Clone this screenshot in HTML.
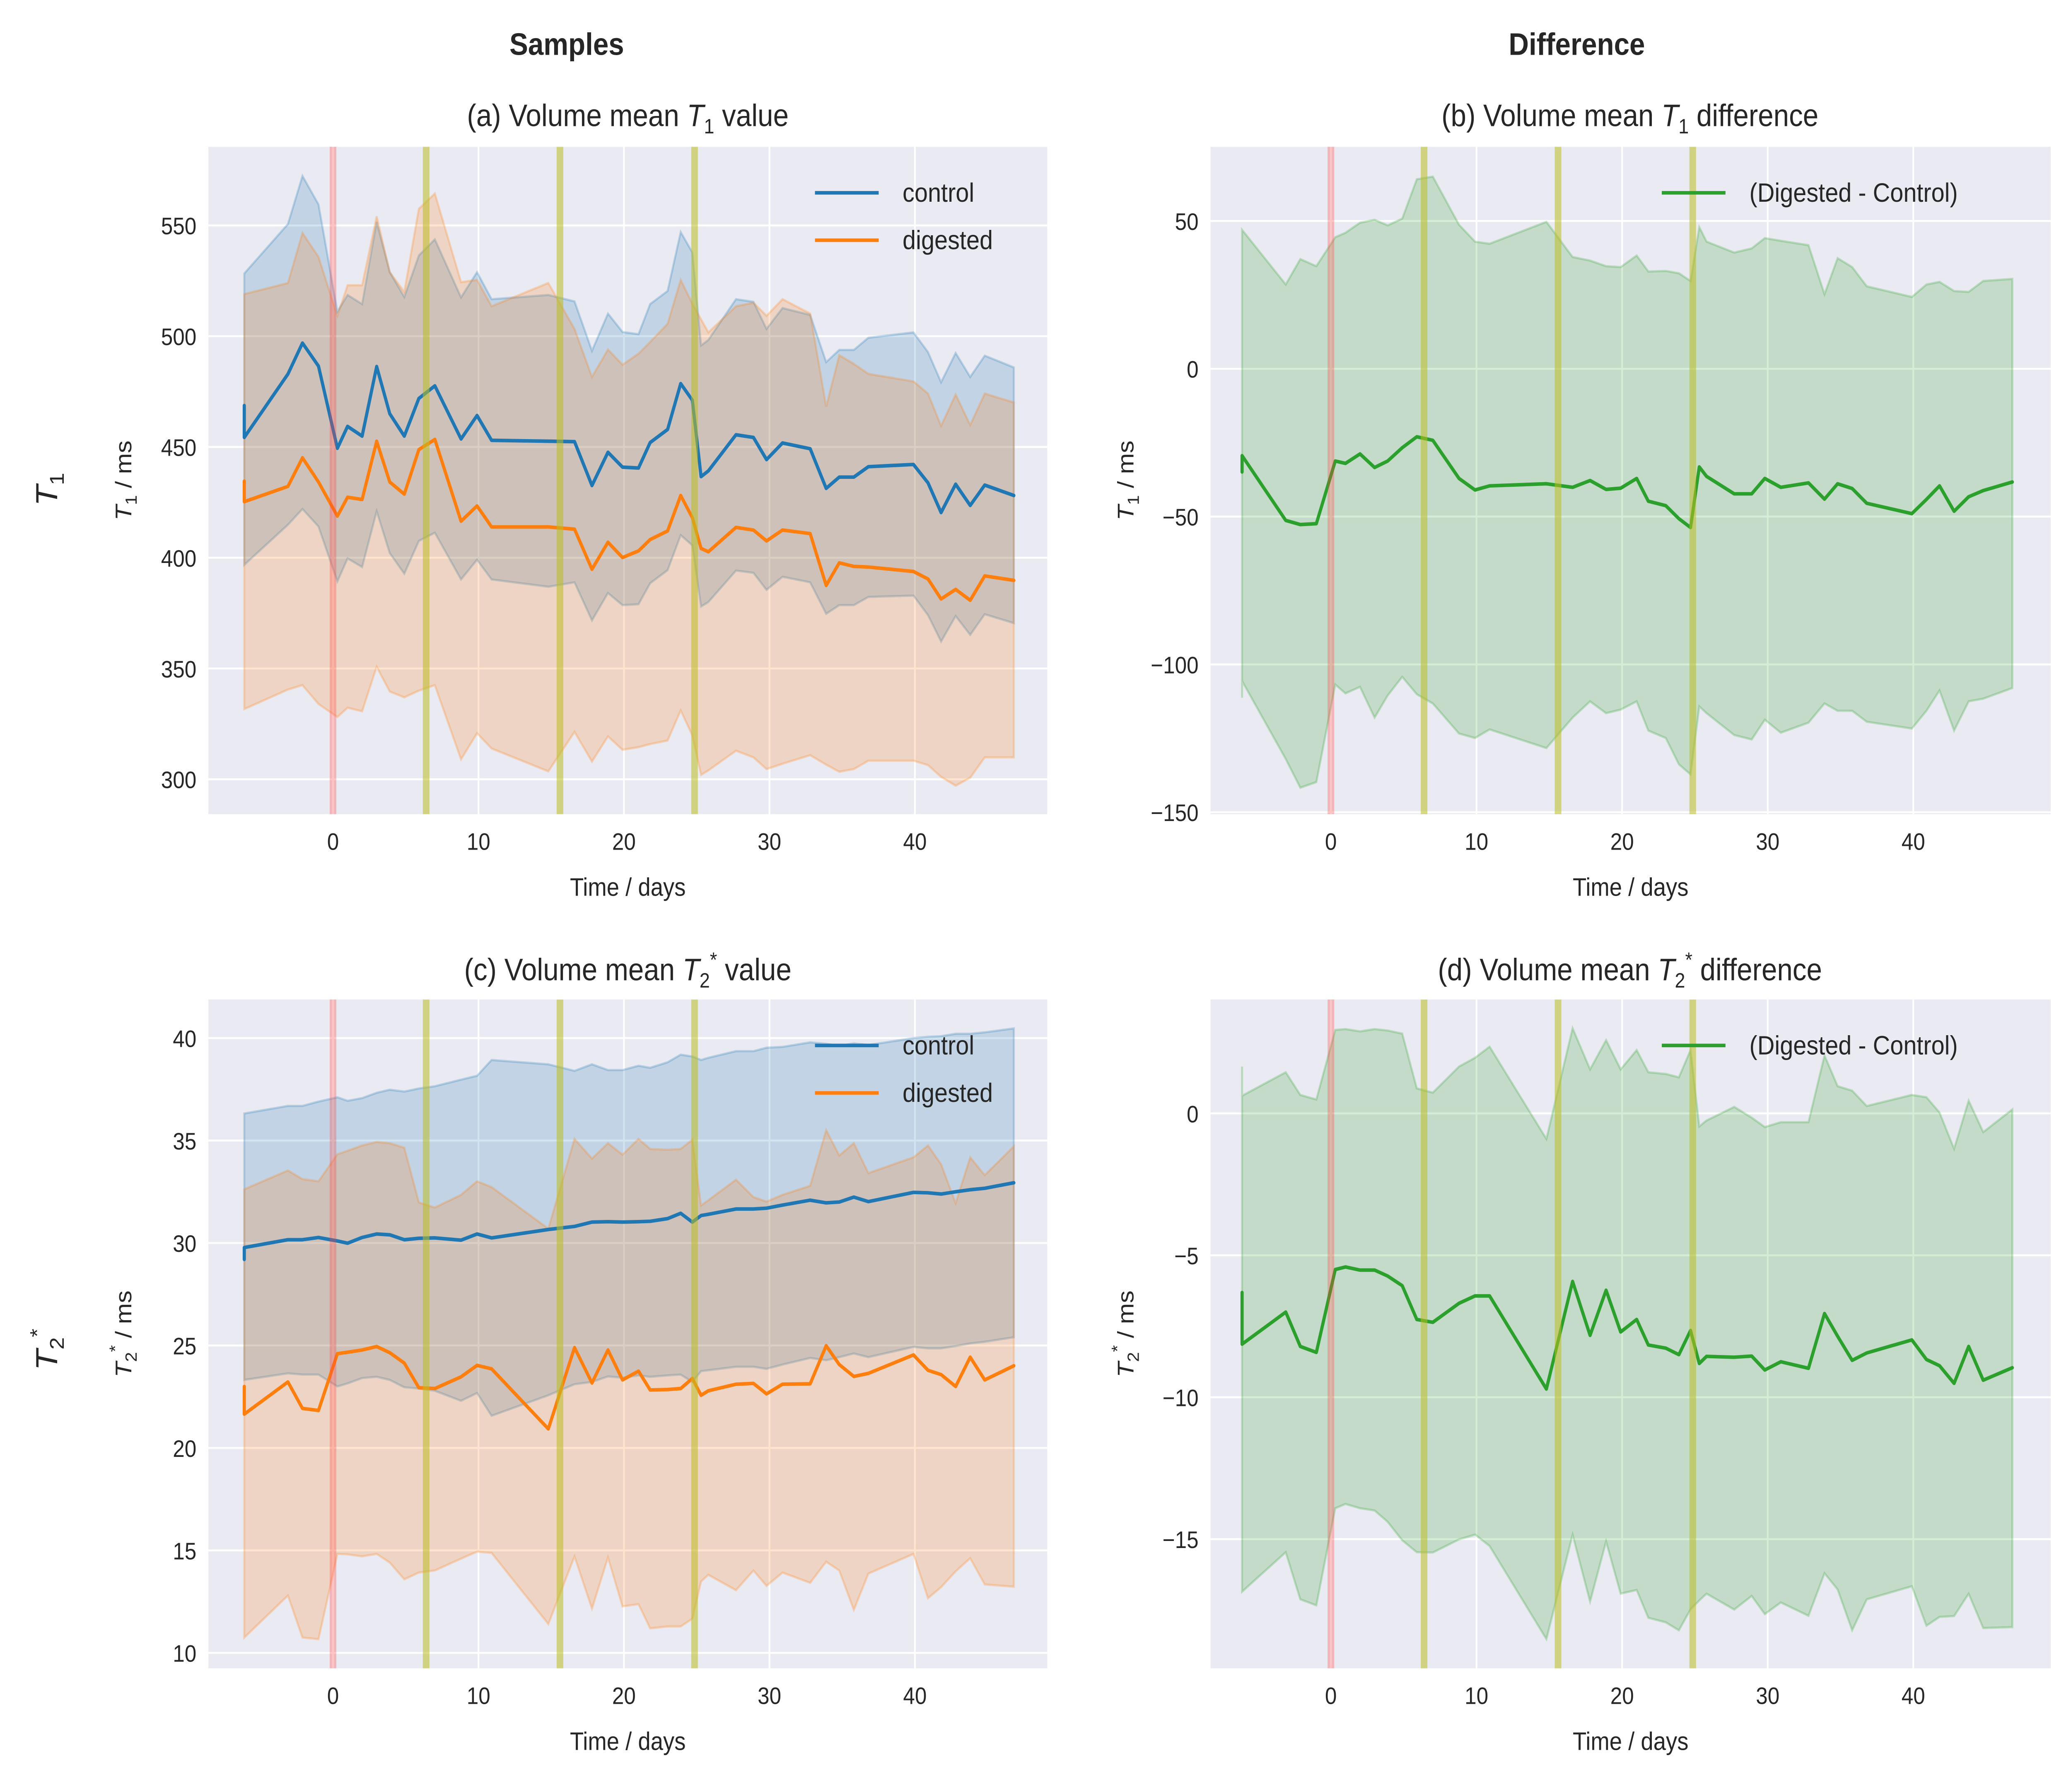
<!DOCTYPE html>
<html><head><meta charset="utf-8"><style>
html,body{margin:0;padding:0;background:#fff;width:100%;height:100%;overflow:hidden;}
svg{display:block;font-family:"Liberation Sans",sans-serif;position:absolute;left:0;top:0;width:100vw;height:100vh;}
</style></head><body>
<svg id="fig" xmlns="http://www.w3.org/2000/svg" viewBox="0 0 1560.3 1208.4" preserveAspectRatio="none">
<rect x="0" y="0" width="1560.3" height="1208.4" fill="#ffffff"/>
<text x="427" y="37" font-size="21" font-weight="bold" fill="#262626" text-anchor="middle">Samples</text>
<text x="1188" y="37" font-size="21" font-weight="bold" fill="#262626" text-anchor="middle">Difference</text>
<text x="473" y="85" font-size="21" fill="#262626" text-anchor="middle">(a) Volume mean <tspan font-style="italic">T</tspan><tspan font-size="14" dy="5">1</tspan><tspan dy="-5"> value</tspan></text>
<text x="1228" y="85" font-size="21" fill="#262626" text-anchor="middle">(b) Volume mean <tspan font-style="italic">T</tspan><tspan font-size="14" dy="5">1</tspan><tspan dy="-5"> difference</tspan></text>
<text x="473" y="661" font-size="21" fill="#262626" text-anchor="middle">(c) Volume mean <tspan font-style="italic">T</tspan><tspan font-size="14" dy="5">2</tspan><tspan font-size="14" dy="-14">*</tspan><tspan dy="9"> value</tspan></text>
<text x="1228" y="661" font-size="21" fill="#262626" text-anchor="middle">(d) Volume mean <tspan font-style="italic">T</tspan><tspan font-size="14" dy="5">2</tspan><tspan font-size="14" dy="-14">*</tspan><tspan dy="9"> difference</tspan></text>
<text transform="translate(43,330) rotate(-90)" font-size="23" fill="#262626" text-anchor="middle"><tspan font-style="italic">T</tspan><tspan font-size="15" dy="5">1</tspan></text>
<text transform="translate(43,910) rotate(-90)" font-size="23" fill="#262626" text-anchor="middle"><tspan font-style="italic">T</tspan><tspan font-size="15" dy="5">2</tspan><tspan font-size="15" dy="-15">*</tspan></text>
<g id="plots"></g>
</svg>
<script>
const T = [-6.1,-6.1,-3.1,-2.1,-1,0.3,1,2,3,3.9,4.9,5.9,7,8.8,9.9,10.9,14.8,16.6,17.8,18.9,19.9,21,21.8,23,23.9,24.7,25.3,25.8,27.7,28.9,29.8,30.9,32.8,33.9,34.8,35.8,36.8,39.9,40.9,41.8,42.8,43.8,44.8,46.8];
const xTicks = [0,10,20,30,40];
const events = [0,6.4,15.6,24.85];
const T1cMean = [468.7,454.3,482.9,496.9,486.5,449.4,459.3,454.9,486.3,465,454.9,471.9,477.6,453.6,464.2,453,452.6,452.4,432.6,447.6,440.9,440.5,452,457.9,478.6,471.1,436.6,439.2,455.5,454.3,444.3,451.8,449.2,431.3,436.4,436.4,441.1,442.1,433.8,420.4,433.2,423.6,432.8,428.1];
const T1cUp = [528.3,528.3,550.6,572.3,559.5,511.1,518.6,514.5,551.6,528.9,517.7,536.4,543.7,517.5,528.9,516.7,518.6,515.7,493.4,510.2,501.9,500.9,514.5,520.4,547,537.8,495.8,498.3,516.7,515.5,503.3,512.7,509.6,488.3,493.8,493.8,499.3,501.7,492.8,479.2,492.4,481.6,491.2,485.9];
const T1cLo = [396.8,396.8,414.9,422,414.1,389.3,399.7,395.8,421,402.1,392.8,407.6,411.3,390.2,399.1,390.2,386.9,388.9,371.7,384.1,378.6,379,388.5,394.4,410.2,405.6,378,380,394.2,393.2,385.5,391.4,388.9,374.7,378.6,378.6,382.3,382.9,374.1,362.2,373.7,365.2,374.5,370.5];
const T1dMean = [434.6,425.3,432.2,445.1,434.2,418.8,427.3,426.3,452.6,434.2,428.7,448.8,453.4,416.5,423.4,413.9,413.9,412.9,394.8,407,400.1,403.1,408.2,412.1,428.1,418.1,404.2,402.7,413.7,412.5,407.6,412.5,410.9,387.5,397.7,396.1,395.8,393.8,390.4,381.4,385.7,380.8,391.8,389.8];
const T1dUp = [519,519,524,546.6,535.8,509.2,523,523,554.1,528.9,520,557.5,564.4,524.4,525.4,513.5,524,503.3,481.6,494,487.1,492.1,497.4,505.6,525.4,514.7,507.6,501.7,513.5,515.1,509.2,516.7,510.2,468.2,491.4,487.5,483,479.6,474.1,459.5,473.7,459.9,474.1,470.1];
const T1dLo = [331.7,331.7,340.5,342.5,334,328.1,332.3,330.7,350.8,339.6,337,340,342.5,309,320.8,313.9,303.6,321.4,308,319.4,313.3,314.5,315.9,317.5,331.1,319.8,302,304,312.9,309.9,304.6,307,310.9,306.6,303.4,304.6,308.4,308.4,306.4,301.1,297.1,300.7,309.9,309.9];
const D1Mean = [-34.9,-29.4,-51.3,-52.7,-52.4,-31.2,-32,-28.8,-33.4,-31.2,-26.7,-23,-24.2,-37.1,-41,-39.6,-38.9,-40.1,-37.8,-40.8,-40.4,-37.1,-44.8,-46.3,-50.7,-53.7,-33.2,-36.4,-42.3,-42.3,-37.1,-40.1,-38.6,-44.1,-38.9,-40.5,-45.5,-49,-44.2,-39.6,-48.2,-43.3,-41.2,-38.3];
const D1Up = [47,47,28.5,37.1,34.7,44.5,46,49.4,50.4,48.5,50.8,64.1,65,48.7,43,42.3,49.7,37.8,36.6,34.7,34.4,38.3,32.9,33.1,32.3,29.7,47.9,43,39.3,40.7,44.2,43.3,41.8,25.2,37.4,34.4,27.9,24.3,28.5,29.4,26.3,26,29.7,30.4];
const D1Lo = [-111.3,-105.6,-132,-141.7,-139.8,-106.8,-109.8,-107.6,-118,-110.5,-104.2,-110.1,-113.2,-123.4,-124.9,-122,-128.3,-118,-112.5,-116.5,-115.3,-112.5,-122.4,-124.9,-133.8,-137.2,-114.2,-116.5,-123.9,-125.4,-118.7,-123.1,-119.7,-113.2,-115.7,-115.7,-119.4,-121.7,-115.7,-108.8,-122.4,-112.5,-111.6,-108];
const T2cMean = [29.2,29.78,30.16,30.16,30.27,30.1,29.99,30.27,30.44,30.4,30.16,30.23,30.25,30.14,30.44,30.25,30.66,30.81,31.02,31.04,31.02,31.04,31.06,31.19,31.45,31.02,31.34,31.4,31.66,31.66,31.7,31.85,32.09,31.96,32,32.24,32.02,32.47,32.45,32.39,32.5,32.6,32.67,32.94];
const T2cUp = [36.32,36.32,36.69,36.69,36.9,37.11,36.94,37.07,37.33,37.48,37.39,37.54,37.65,37.97,38.16,38.93,38.72,38.4,38.72,38.44,38.44,38.65,38.55,38.82,39.19,39.1,38.93,39.04,39.36,39.36,39.53,39.57,39.79,39.72,39.62,39.74,39.66,40,40.06,40.09,40.21,40.21,40.28,40.47];
const T2cLo = [23.32,23.32,23.64,23.58,23.58,23,23.15,23.41,23.47,23.32,22.96,22.9,22.79,22.3,22.68,21.57,22.57,23.11,23.22,23.49,23.43,23.54,23.47,23.54,23.58,23.22,23.75,23.79,23.96,23.96,23.86,24.07,24.39,24.28,24.43,24.61,24.43,24.93,24.86,24.86,24.97,25.1,25.18,25.4];
const T2dMean = [23,21.65,23.22,21.93,21.83,24.6,24.67,24.78,24.95,24.65,24.14,22.94,22.9,23.47,24.03,23.86,20.93,24.9,23.17,24.78,23.32,23.75,22.83,22.85,22.9,23.39,22.57,22.79,23.11,23.15,22.64,23.11,23.13,24.99,24.07,23.49,23.64,24.54,23.79,23.58,23,24.43,23.32,24.01];
const T2dUp = [32.62,32.62,33.54,33.12,33.01,34.33,34.5,34.76,34.93,34.87,34.65,31.98,31.73,32.35,33.01,32.73,30.7,35.08,34.12,34.87,34.31,35.08,34.59,34.55,34.59,35.04,31.83,32.09,33.09,32.24,32.02,32.35,32.79,35.51,34.27,34.87,33.41,34.18,34.76,33.84,31.94,34.18,33.31,34.72];
const T2dLo = [10.75,10.75,12.8,10.75,10.67,14.83,14.81,14.71,14.83,14.41,13.59,13.92,14.02,14.6,14.94,14.88,11.41,14.71,12.16,14.66,12.27,12.38,11.2,11.29,11.29,11.67,13.49,13.81,13.06,14.02,13.27,13.92,13.42,14.45,14.02,12.1,13.87,14.83,12.67,13.21,13.98,14.62,13.34,13.23];
const D2Mean = [-6.31,-8.13,-7,-8.21,-8.42,-5.5,-5.41,-5.52,-5.52,-5.73,-6.07,-7.26,-7.36,-6.69,-6.43,-6.43,-9.71,-5.92,-7.82,-6.23,-7.7,-7.26,-8.16,-8.27,-8.5,-7.65,-8.81,-8.56,-8.59,-8.55,-9.04,-8.75,-8.98,-7.05,-7.85,-8.7,-8.44,-7.98,-8.67,-8.89,-9.51,-8.21,-9.4,-8.96];
const D2Up = [1.65,0.62,1.45,0.65,0.49,2.94,2.97,2.89,2.97,2.92,2.81,0.88,0.73,1.65,1.96,2.35,-0.9,3,1.55,2.58,1.55,2.23,1.45,1.39,1.27,2.23,-0.46,-0.25,0.23,-0.15,-0.48,-0.31,-0.31,2.04,0.96,0.8,0.26,0.65,0.57,0.03,-1.25,0.45,-0.66,0.14];
const D2Lo = [-16.85,-16.85,-15.46,-17.12,-17.33,-13.91,-13.76,-13.91,-13.99,-14.39,-15.04,-15.46,-15.47,-15.01,-14.84,-15.24,-18.52,-14.84,-17.2,-15.08,-16.92,-16.79,-17.77,-17.93,-18.21,-17.47,-17.16,-16.92,-17.48,-17,-17.64,-17.23,-17.7,-16.2,-16.77,-18.21,-17.12,-16.66,-18.05,-17.74,-17.71,-16.92,-18.13,-18.1];
const yTicksA = [300,350,400,450,500,550];
const yTicksB = [-150,-100,-50,0,50];
const yTicksC = [10,15,20,25,30,35,40];
const yTicksD = [-15,-10,-5,0];

const NS = 'http://www.w3.org/2000/svg';
const root = document.getElementById('plots');
function mk(tag, attrs, parent) {
  const e = document.createElementNS(NS, tag);
  for (const k in attrs) e.setAttribute(k, attrs[k]);
  (parent || root).appendChild(e);
  return e;
}
const BLUE = '#1f77b4', ORANGE = '#ff7f0e', GREEN = '#2ca02c';

function panel(cfg) {
  const g = mk('g', {});
  
  
  const X = t => cfg.x0 + cfg.xs * t;
  const Y = v => cfg.y0 + (cfg.v0 - v) * cfg.ys;
  const bg = mk('rect', {x: cfg.L, y: cfg.Tp, width: cfg.R - cfg.L, height: cfg.B - cfg.Tp, fill: '#eaeaf2'}, g);
  
  
  xTicks.forEach(t => {
    const l = mk('line', {x1: X(t), x2: X(t), y1: cfg.Tp, y2: cfg.B, stroke: '#fff', 'stroke-width': 1.3}, g);
    
    
    const tx = mk('text', {x: X(t), y: cfg.B + 24, 'font-size': 16, fill: '#262626', 'text-anchor': 'middle'}, g);
    tx.textContent = t;
    
    
  });
  cfg.yTicks.forEach(v => {
    const l = mk('line', {x1: cfg.L, x2: cfg.R, y1: Y(v), y2: Y(v), stroke: '#fff', 'stroke-width': 1.3}, g);
    
    
    const tx = mk('text', {x: cfg.L - 9, y: Y(v) + 6, 'font-size': 16, fill: '#262626', 'text-anchor': 'end'}, g);
    tx.textContent = String(v).replace('-', '\u2212');
    
    
  });
  cfg.series.forEach(s => {
    let d = '';
    T.forEach((t, i) => { d += (i ? 'L' : 'M') + X(t).toFixed(2) + ',' + Y(s.up[i]).toFixed(2); });
    for (let i = T.length - 1; i >= 0; i--) d += 'L' + X(T[i]).toFixed(2) + ',' + Y(s.lo[i]).toFixed(2);
    d += 'Z';
    const band = mk('path', {d: d, fill: s.color, 'fill-opacity': 0.2, stroke: s.color, 'stroke-opacity': 0.25, 'stroke-width': 1.5}, g);
    
    
  });
  cfg.series.forEach(s => {
    const pts = T.map((t, i) => X(t).toFixed(2) + ',' + Y(s.mean[i]).toFixed(2)).join(' ');
    const pl = mk('polyline', {points: pts, fill: 'none', stroke: s.color, 'stroke-width': 2.4, 'stroke-linejoin': 'round', 'stroke-linecap': 'round'}, g);
    
    
  });
  events.forEach((t, i) => {
    const r = mk('rect', {x: X(t) - 2.5, y: cfg.Tp, width: 5, height: cfg.B - cfg.Tp, fill: i === 0 ? '#ff4040' : '#bcbd22', 'fill-opacity': i === 0 ? 0.3 : 0.55}, g);
    
    
  });
  const xl = mk('text', {x: (cfg.L + cfg.R) / 2, y: cfg.B + 55, 'font-size': 17, fill: '#262626', 'text-anchor': 'middle'}, g);
  xl.textContent = 'Time / days';
  
  
  const yl = mk('text', {transform: 'translate(' + (cfg.L - 58) + ',' + ((cfg.Tp + cfg.B) / 2) + ') rotate(-90)', 'font-size': 17, fill: '#262626', 'text-anchor': 'middle'}, g);
  yl.innerHTML = cfg.ylab;
  
  
  cfg.series.forEach((s, i) => {
    const ly = cfg.Tp + 31 + i * 32;
    const lg = mk('g', {}, g);
    
    
    mk('line', {x1: cfg.legX, x2: cfg.legX + 48, y1: ly, y2: ly, stroke: s.color, 'stroke-width': 2.4}, lg);
    const lt = mk('text', {x: cfg.legX + 66, y: ly + 6, 'font-size': 18, fill: '#262626'}, lg);
    lt.textContent = s.label;
  });
}
const T1lab = '<tspan font-style="italic">T</tspan><tspan font-size="12" dy="4">1</tspan><tspan dy="-4"> / ms</tspan>';
const T2lab = '<tspan font-style="italic">T</tspan><tspan font-size="12" dy="4">2</tspan><tspan font-size="12" dy="-12">*</tspan><tspan dy="8"> / ms</tspan>';
panel({name: 'panel-a', L: 157, R: 789, Tp: 99, B: 549, x0: 250.9, xs: 10.96, y0: 152, v0: 550, ys: 1.494, yTicks: yTicksA, ylab: T1lab, legX: 614,
  series: [{key: 'control', label: 'control', color: BLUE, mean: T1cMean, up: T1cUp, lo: T1cLo},
           {key: 'digested', label: 'digested', color: ORANGE, mean: T1dMean, up: T1dUp, lo: T1dLo}]});
panel({name: 'panel-b', L: 912, R: 1545, Tp: 99, B: 549, x0: 1002.7, xs: 10.97, y0: 149, v0: 50, ys: 1.9935, yTicks: yTicksB, ylab: T1lab, legX: 1252,
  series: [{key: 'difference', label: '(Digested - Control)', color: GREEN, mean: D1Mean, up: D1Up, lo: D1Lo}]});
panel({name: 'panel-c', L: 157, R: 789, Tp: 674, B: 1125, x0: 250.9, xs: 10.96, y0: 700, v0: 40, ys: 13.82, yTicks: yTicksC, ylab: T2lab, legX: 614,
  series: [{key: 'control', label: 'control', color: BLUE, mean: T2cMean, up: T2cUp, lo: T2cLo},
           {key: 'digested', label: 'digested', color: ORANGE, mean: T2dMean, up: T2dUp, lo: T2dLo}]});
panel({name: 'panel-d', L: 912, R: 1545, Tp: 674, B: 1125, x0: 1002.7, xs: 10.97, y0: 750.8, v0: 0, ys: 19.14, yTicks: yTicksD, ylab: T2lab, legX: 1252,
  series: [{key: 'difference', label: '(Digested - Control)', color: GREEN, mean: D2Mean, up: D2Up, lo: D2Lo}]});
</script>
</body></html>
